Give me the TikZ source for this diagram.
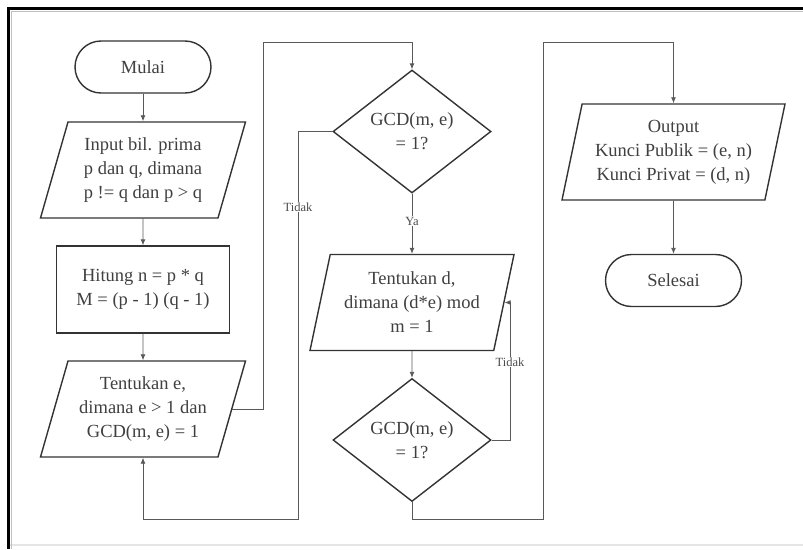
\documentclass[tikz,border=0pt]{standalone}
\usepackage{fontspec}
\setmainfont{Liberation Serif}
\usetikzlibrary{shapes.geometric,arrows.meta}
\begin{document}
\begin{tikzpicture}[x=1pt,y=-1pt,
  shapeline/.style={draw=black!80, line width=1.4pt},
  txt/.style={text=black!75, font=\fontsize{18.5}{24}\selectfont, align=center},
  term/.style={shapeline, txt, rectangle, rounded corners=26pt, minimum width=136pt, minimum height=52pt, inner sep=0pt},
  io/.style={shapeline, txt, trapezium, trapezium stretches body, minimum height=96pt, inner sep=0pt},
  proc/.style={shapeline, txt, rectangle, minimum width=173pt, minimum height=87pt, inner sep=0pt},
  dec/.style={shapeline, txt, diamond, aspect=1.28, minimum width=158pt, minimum height=123pt, inner sep=0pt},
  conn/.style={draw=black!65, line width=0.9pt},
  arr/.style={conn, -{Latex[length=6pt,width=5pt]}},
  lbl/.style={fill=white, text=black!70, font=\fontsize{12.5}{14}\selectfont, inner sep=1pt}]
\useasboundingbox (0,0) rectangle (803,549);
\fill[white] (0,0) rectangle (803,549);
% frame
\draw[black!10, line width=1.5pt] (10,545) -- (803,545);
\draw[black!25, line width=1pt] (11.5,549) -- (11.5,11.5) -- (803,11.5);
\draw[line width=3pt] (8,549) -- (8,8) -- (803,8);

% nodes
\node[term] (mulai) at (143,67) {Mulai};
\node[io, trapezium left angle=67, trapezium right angle=113, minimum width=205pt] (input) at (143,170) {Input bil. prima\\p dan q, dimana\\p != q dan p > q};
\node[proc] (hit) at (143,289.5) {Hitung n = p * q\\M = (p - 1) (q - 1)};
\node[io, trapezium left angle=67, trapezium right angle=113, minimum width=205pt] (tente) at (143,409) {Tentukan e,\\dimana e > 1 dan\\GCD(m, e) = 1};
\node[dec] (d1) at (412,131.5) {GCD(m, e)\\= 1?};
\node[io, trapezium left angle=71.6, trapezium right angle=108.4, minimum width=204pt] (tentd) at (412,302.5) {Tentukan d,\\dimana (d*e) mod\\m = 1};
\node[dec] (d2) at (412,440) {GCD(m, e)\\= 1?};
\node[io, trapezium left angle=72.6, trapezium right angle=107.4, minimum width=223pt] (out) at (673.5,152) {Output\\Kunci Publik = (e, n)\\Kunci Privat = (d, n)};
\node[term] (sel) at (673.5,280.5) {Selesai};

\coordinate (c1) at (263,42);
\coordinate (c2) at (298,519);
\coordinate (c4) at (543,519);
\coordinate (c5) at (543,42);

% connectors
\draw[arr] (mulai) -- (input);
\draw[arr] (input) -- (hit);
\draw[arr] (hit) -- (tente);
\draw[arr] (tente.east) -| (c1) -| (d1.north);
\draw[arr] (d1.west) -| (c2) -| (tente.south);
\draw[arr] (d1) -- (tentd);
\draw[arr] (tentd) -- (d2);
\draw[arr] (d2.east) -- ++(18.5,0) |- (tentd.east);
\draw[arr] (d2.south) |- (c4) -- (c5) -| (out.north);
\draw[arr] (out) -- (sel);

% labels
\node[lbl] (t1) at (298,207) {Tidak};
\node[lbl] (ya) at (412,221) {Ya};
\node[lbl] (t2) at (510,362) {Tidak};
\end{tikzpicture}
\end{document}
